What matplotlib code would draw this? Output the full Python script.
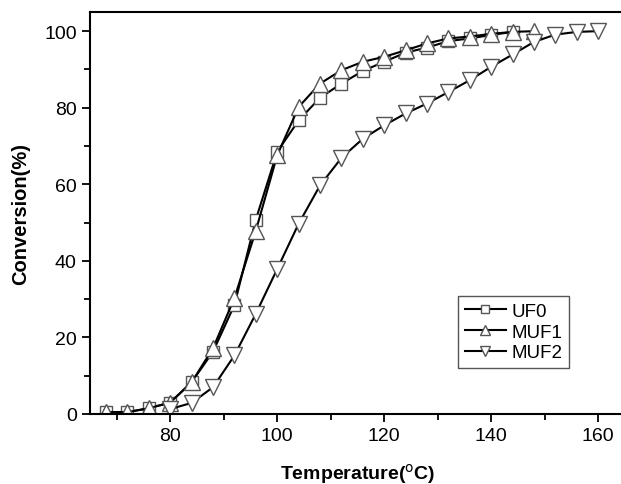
import matplotlib
matplotlib.use("Agg")
import matplotlib.pyplot as plt
from matplotlib.ticker import MultipleLocator

# conversion data
temp_uf0 = [68, 72, 76, 80, 84, 88, 92, 96, 100, 104, 108, 112, 116, 120, 124, 128, 132, 136, 140, 144]
uf0 = [0.5, 0.5, 1.5, 3.0, 8.3, 16.3, 28.5, 50.8, 68.5, 76.7, 82.6, 86.3, 89.6, 92.0, 94.4, 95.7, 97.4, 98.1, 99.0, 99.8]

temp_muf1 = [68, 72, 76, 80, 84, 88, 92, 96, 100, 104, 108, 112, 116, 120, 124, 128, 132, 136, 140, 144, 148]
muf1 = [0.5, 0.5, 1.5, 3.0, 8.3, 17.2, 30.3, 47.9, 67.6, 80.2, 86.3, 89.8, 92.0, 93.3, 95.0, 96.8, 98.1, 98.6, 99.3, 99.8, 100.0]

temp_muf2 = [80, 84, 88, 92, 96, 100, 104, 108, 112, 116, 120, 124, 128, 132, 136, 140, 144, 148, 152, 156, 160]
muf2 = [1.3, 2.9, 7.0, 15.3, 26.2, 37.9, 49.7, 59.7, 66.9, 71.9, 75.4, 78.5, 81.1, 84.1, 87.2, 90.7, 93.9, 97.2, 99.1, 99.8, 100.0]

plt.rcParams['font.family'] = ['Liberation Sans', 'DejaVu Sans']

fig = plt.figure(figsize=(6.21, 4.85), dpi=100)
ax = fig.add_axes([90 / 621, 70 / 485, 535 / 621, 402 / 485])

mk = dict(color='black', lw=1.5, markerfacecolor='white', markeredgecolor='#555555', markeredgewidth=1.0)
ax.plot(temp_uf0, uf0, marker='s', markersize=8.5, label='UF0', **mk)
ax.plot(temp_muf1, muf1, marker='^', markersize=11, label='MUF1', **mk)
ax.plot(temp_muf2, muf2, marker='v', markersize=11, label='MUF2', **mk)

ax.set_xlim(65, 165)
ax.set_ylim(0, 105)
ax.xaxis.set_major_locator(MultipleLocator(20))
ax.xaxis.set_minor_locator(MultipleLocator(10))
ax.yaxis.set_major_locator(MultipleLocator(20))
ax.yaxis.set_minor_locator(MultipleLocator(10))
ax.tick_params(which='major', direction='out', length=6, width=1.3, labelsize=14)
ax.tick_params(which='minor', direction='out', length=4, width=1.3)
for s in ax.spines.values():
    s.set_linewidth(1.5)

ax.set_xlabel('Temperature($^{\\mathrm{o}}$C)', fontsize=14, fontweight='bold', labelpad=12)
ax.set_ylabel('Conversion(%)', fontsize=14.5, fontweight='bold', labelpad=10)

leg = ax.legend(loc='upper left', bbox_to_anchor=(0.688, 0.2935), borderaxespad=0,
                fontsize=13.5, handlelength=2.2, markerscale=0.7, labelspacing=0.2,
                handletextpad=0.3, borderpad=0.35, fancybox=False, edgecolor='#555555', framealpha=1)
leg.get_frame().set_linewidth(1.0)

fig.savefig('out.png', dpi=100)
